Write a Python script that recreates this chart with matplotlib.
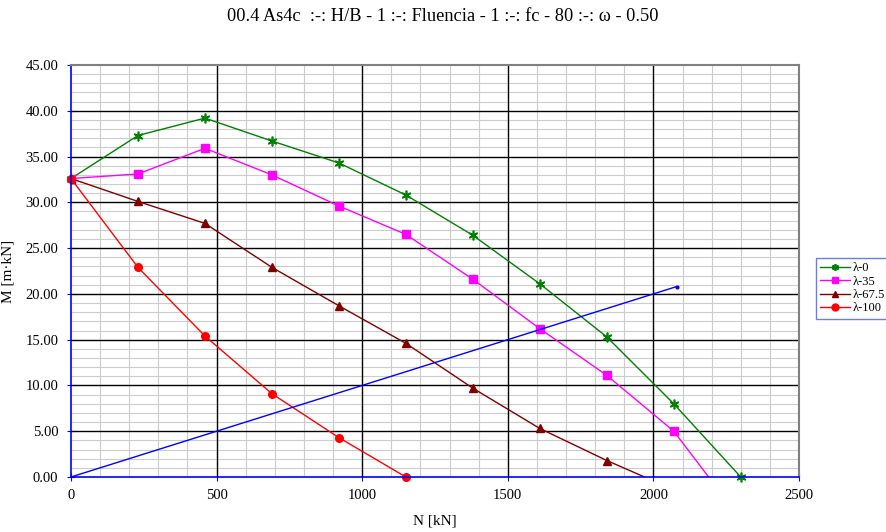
import matplotlib
matplotlib.use('Agg')
import matplotlib.pyplot as plt
from matplotlib.ticker import MultipleLocator, FormatStrFormatter

plt.rcParams['font.family'] = ['Liberation Serif', 'DejaVu Serif']

# axial load steps [kN]
n_vals = [0, 230, 460, 690, 920, 1150, 1380, 1610, 1840, 2070, 2300]

# moment capacity [m·kN] per slenderness
m_l0 = [32.6, 37.3, 39.2, 36.7, 34.3, 30.8, 26.4, 21.1, 15.3, 8.0, 0.0]
m_l35 = [32.6, 33.1, 35.9, 33.0, 29.6, 26.5, 21.6, 16.2, 11.1, 5.0, -4.6]
m_l67 = [32.6, 30.1, 27.7, 22.9, 18.7, 14.6, 9.7, 5.3, 1.8, -1.4]
m_l100 = [32.6, 22.9, 15.4, 9.1, 4.3, 0.0]

# load path with constant eccentricity
ecc_n = [0, 2080]
ecc_m = [0.0, 20.8]

title = "00.4 As4c  :-: H/B - 1 :-: Fluencia - 1 :-: fc - 80 :-: \u03c9 - 0.50"

fig = plt.figure(figsize=(8.86, 5.32), dpi=100)
ax = fig.add_axes([0.0801, 0.1034, 0.8217, 0.7744])

ax.plot(n_vals, m_l0, color='#008000', lw=1.0, marker=(6, 2, 0), ms=7,
        mew=1.2, label='\u03bb-0', clip_on=False)
ax.plot(n_vals, m_l35, color='#ff00ff', lw=1.0, marker='s', ms=5.5,
        label='\u03bb-35')
ax.plot(n_vals[:len(m_l67)], m_l67, color='#800000', lw=1.0, marker='^',
        ms=6, label='\u03bb-67.5')
ax.plot(n_vals[:len(m_l100)], m_l100, color='#ff0000', lw=1.0, marker='o',
        ms=5.5, label='\u03bb-100', clip_on=False)
ax.plot(ecc_n, ecc_m, color='#0000ff', lw=1.0, marker='o', ms=2,
        markevery=[1])

ax.set_xlim(0, 2500)
ax.set_ylim(0, 45)
ax.xaxis.set_major_locator(MultipleLocator(500))
ax.xaxis.set_minor_locator(MultipleLocator(100))
ax.yaxis.set_major_locator(MultipleLocator(5))
ax.yaxis.set_minor_locator(MultipleLocator(1))
ax.yaxis.set_major_formatter(FormatStrFormatter('%.2f'))

# light minor grid, solid black major grid drawn above it
ax.grid(which='minor', color='#cccccc', lw=0.8)
ax.set_axisbelow(True)
for xv in range(500, 2500, 500):
    ax.axvline(xv, color='black', lw=1.0, zorder=0.9)
for yv in range(5, 45, 5):
    ax.axhline(yv, color='black', lw=1.0, zorder=0.9)

for side in ('left', 'bottom'):
    ax.spines[side].set_color('#0000ff')
    ax.spines[side].set_linewidth(1.2)
for side in ('right', 'top'):
    ax.spines[side].set_color('#808080')
    ax.spines[side].set_linewidth(1.5)

ax.tick_params(which='major', direction='inout', length=6, color='#0000ff',
               labelsize=10.5, pad=6)
ax.tick_params(which='minor', length=0)

ax.set_xlabel('N [kN]', fontsize=11, labelpad=9)
ax.set_ylabel('M [m\u00b7kN]', fontsize=11, labelpad=8)
fig.suptitle(title, fontsize=13.2, y=0.985)

leg = ax.legend(loc='upper left', bbox_to_anchor=(816 / 886, 1 - 258 / 532),
                bbox_transform=fig.transFigure, fontsize=9, frameon=True,
                fancybox=False, borderpad=0.35, handlelength=2.4,
                handletextpad=0.2, labelspacing=0.1, borderaxespad=0)
leg.get_frame().set_edgecolor('#4060e0')
leg.get_frame().set_linewidth(1.0)
for h in leg.legend_handles:
    h.set_markersize(5)

fig.savefig('out.png', dpi=100)
